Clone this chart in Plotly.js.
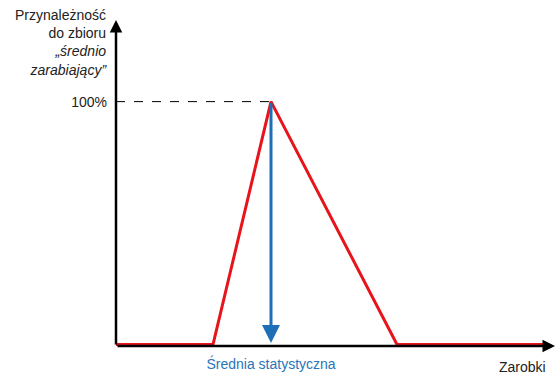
<!DOCTYPE html>
<html><head><meta charset="utf-8">
<script src="https://cdn.plot.ly/plotly-3.0.1.min.js"></script>
<style>html,body{margin:0;padding:0;background:#fff}#c{width:557px;height:376px}</style>
</head><body><div id="c"></div>
<script>
// Membership function "średnio zarabiający" (earnings vs membership %)
const earnings = [0, 97, 155, 281, 429];
const membership = [0, 0, 100, 0, 0];
const meanEarnings = 155;
const peakValue = 100;
const yTickLabel = '100%';
const meanLabel = 'Średnia statystyczna';
const xTitle = 'Zarobki';
const yTitleLines = ['Przynależność', 'do zbioru', '<i>„średnio</i>', '<i>zarabiający”</i>'];

const X_MAX = 440, Y_MAX = 133.6;
const font = {family: 'Liberation Sans, Arial, sans-serif', size: 14, color: '#222'};

const traces = [{
  x: earnings, y: membership, type: 'scatter', mode: 'lines',
  line: {color: '#e8141c', width: 3}, hoverinfo: 'skip', cliponaxis: false
}];

const layout = {
  width: 557, height: 376,
  margin: {l: 116, r: 1, t: 20, b: 30},
  paper_bgcolor: '#fff', plot_bgcolor: '#fff',
  showlegend: false, font: font,
  xaxis: {range: [0, X_MAX], showgrid: false, zeroline: false, showline: false,
    tickvals: [meanEarnings], ticktext: [meanLabel], ticks: '', ticklen: 0, ticklabelstandoff: 8,
    tickfont: {family: font.family, size: 14, color: '#2a74b8'}, fixedrange: true},
  yaxis: {range: [-0.6, Y_MAX], showgrid: false, zeroline: false, showline: false,
    tickvals: [peakValue], ticktext: [yTickLabel], ticks: '', ticklabelstandoff: 8,
    tickfont: font, fixedrange: true},
  shapes: [{type: 'line', xref: 'x', yref: 'y', x0: 0, x1: meanEarnings, y0: peakValue, y1: peakValue,
    line: {color: '#000', width: 1, dash: 'dash'}}],
  annotations: [
    // y axis arrow
    {xref: 'x', yref: 'y', axref: 'x', ayref: 'y', x: 0, y: Y_MAX, ax: 0, ay: -0.6, text: '',
     showarrow: true, arrowhead: 2, arrowsize: 1, arrowwidth: 2.5, arrowcolor: '#000'},
    // x axis arrow
    {xref: 'x', yref: 'y', axref: 'x', ayref: 'y', x: X_MAX - 1, y: -0.6, ax: 0, ay: -0.6, text: '',
     showarrow: true, arrowhead: 2, arrowsize: 1, arrowwidth: 2.5, arrowcolor: '#000'},
    // blue mean arrow
    {xref: 'x', yref: 'y', axref: 'x', ayref: 'y', x: meanEarnings, y: 0.6, ax: meanEarnings, ay: peakValue, text: '',
     showarrow: true, arrowhead: 2, arrowsize: 1.2, arrowwidth: 3, arrowcolor: '#1f6fb8'},
    {xref: 'paper', yref: 'paper', x: 1, y: 0, xanchor: 'right', yanchor: 'top', yshift: -11, xshift: -8,
     text: xTitle, showarrow: false, font: font},
    {xref: 'paper', yref: 'paper', x: 0, y: 1, xanchor: 'right', yanchor: 'top', xshift: -7, yshift: 15,
     text: yTitleLines.join('<br>'), align: 'right', showarrow: false, font: font}
  ]
};
Plotly.newPlot('c', traces, layout, {staticPlot: true, displayModeBar: false});
</script></body></html>
